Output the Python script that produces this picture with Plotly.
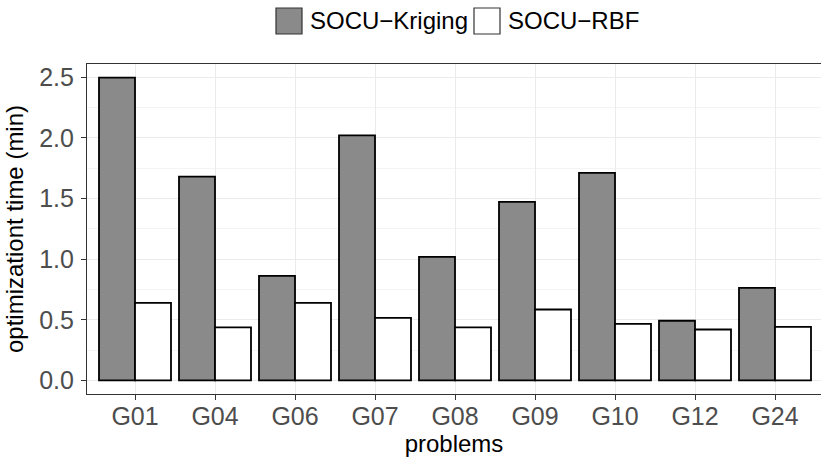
import plotly.graph_objects as go

problems = ["G01", "G04", "G06", "G07", "G08", "G09", "G10", "G12", "G24"]
kriging = [2.497, 1.681, 0.863, 2.022, 1.019, 1.473, 1.712, 0.492, 0.764]
rbf = [0.640, 0.437, 0.640, 0.516, 0.437, 0.585, 0.467, 0.420, 0.442]
series_names = ["SOCU\u2212Kriging", "SOCU\u2212RBF"]
series_colors = ["#8A8A8A", "#FFFFFF"]
y_ticks = [0.0, 0.5, 1.0, 1.5, 2.0, 2.5]

W, H = 821, 457
ML, MR, MT, MB = 87, 0, 64, 63
PW, PH = W - ML - MR, H - MT - MB

fig = go.Figure()
for name, vals, col in zip(series_names, [kriging, rbf], series_colors):
    fig.add_trace(go.Bar(
        x=problems, y=vals, name=name, showlegend=False,
        marker=dict(color=col, line=dict(color="black", width=1.8)),
    ))

FONT = "Liberation Sans, Arial, Helvetica, sans-serif"

def px_x(px):
    return (px - ML) / PW

def px_y(py):
    return (H - MB - py) / PH

# manual legend (ggplot-style large keys)
legend_items = [(276, 302, 308), (474, 500, 506)]
shapes = []
annotations = []
for (k0, k1, tx), name, col in zip(legend_items, series_names, series_colors):
    shapes.append(dict(type="rect", xref="paper", yref="paper",
                       x0=px_x(k0), x1=px_x(k1), y0=px_y(34), y1=px_y(8),
                       fillcolor=col, line=dict(color="#333333", width=1.2)))
    annotations.append(dict(text=name, xref="paper", yref="paper",
                            x=px_x(tx), y=px_y(21), xanchor="left", yanchor="middle",
                            showarrow=False, font=dict(family=FONT, size=24, color="black")))

fig.update_layout(
    width=W, height=H,
    margin=dict(l=ML, r=MR, t=MT, b=MB, pad=0),
    paper_bgcolor="white", plot_bgcolor="white",
    barmode="group", bargap=0.1, bargroupgap=0,
    shapes=shapes, annotations=annotations,
    showlegend=False,
    font=dict(family=FONT),
)
fig.update_xaxes(
    range=[-0.6, 8.575], showgrid=True, gridcolor="#EBEBEB", gridwidth=1.1,
    showline=True, linecolor="#333333", linewidth=1.1, mirror=True,
    ticks="outside", ticklen=5, tickcolor="#333333", tickwidth=1.1,
    ticklabelstandoff=-5,
    tickfont=dict(family=FONT, size=25, color="#4D4D4D"),
    title=dict(text="problems", font=dict(family=FONT, size=24, color="black"), standoff=0),
    zeroline=False, automargin=False,
)
fig.update_yaxes(
    range=[-0.112, 2.61], tickvals=y_ticks, ticktext=[f"{v:.1f}" for v in y_ticks],
    showgrid=True, gridcolor="#EBEBEB", gridwidth=1.1,
    minor=dict(tickvals=[0.25, 0.75, 1.25, 1.75, 2.25], showgrid=True,
               gridcolor="#F4F4F4", gridwidth=0.6, ticks=""),
    showline=True, linecolor="#333333", linewidth=1.1, mirror=False,
    ticks="outside", ticklen=5, tickcolor="#333333", tickwidth=1.1,
    ticklabelstandoff=2,
    tickfont=dict(family=FONT, size=25, color="#4D4D4D"),
    title=dict(text="optimizationt time (min)", font=dict(family=FONT, size=24, color="black"), standoff=8),
    zeroline=False, automargin=False,
)

fig.write_html("out.html")
